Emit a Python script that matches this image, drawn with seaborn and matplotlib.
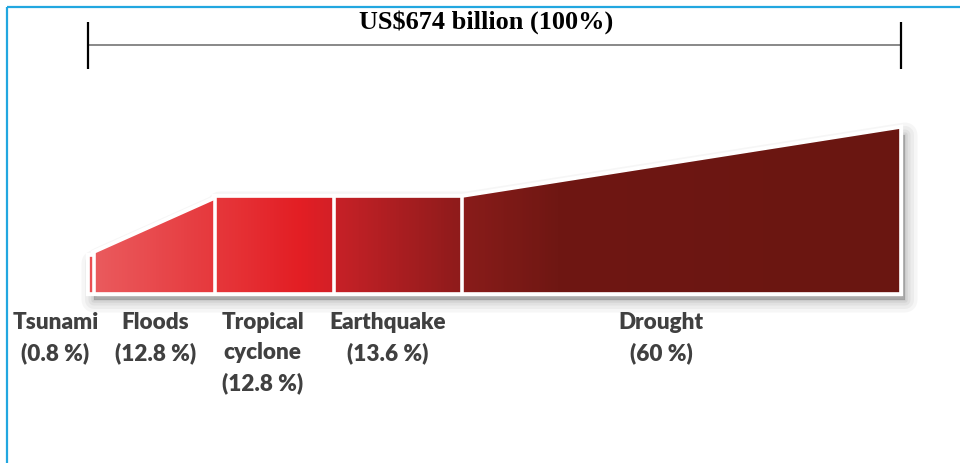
import numpy as np
import matplotlib
matplotlib.use("Agg")
import matplotlib.pyplot as plt
import seaborn as sns
import pandas as pd
from matplotlib.patches import Polygon
from matplotlib.colors import LinearSegmentedColormap

# ---- data ----
hazards = ["Tsunami", "Floods", "Tropical\ncyclone", "Earthquake", "Drought"]
shares = ["0.8 %", "12.8 %", "12.8 %", "13.6 %", "60 %"]
seg_widths = [0.6, 14.9, 14.7, 15.8, 54.0]          # band widths as drawn
height_left = [37, 40, 96, 96, 96]                  # band height at left edge
height_right = [37, 94, 96, 96, 165]                # band height at right edge
total_label = "US$674 billion (100%)"

sns.set_theme(style="white")
plt.rcParams["font.family"] = ["Lato", "DejaVu Sans"]

W, H = 960, 463
fig = plt.figure(figsize=(W / 100, H / 100), dpi=100)
ax = fig.add_axes([0, 0, 1, 1])
PX = 8.11  # px per x unit
x0 = 89
ax.set_xlim(-x0 / PX, (W - x0) / PX)
ax.set_ylim(-(H - 293), 293)
ax.axis("off")

def px2u(px):
    return (px - x0) / PX

edges = np.concatenate([[0], np.cumsum(seg_widths)])

# outline polygon of the whole band
outline = [(edges[0], 0)]
for i in range(len(seg_widths)):
    outline.append((edges[i], height_left[i]))
    outline.append((edges[i + 1], height_right[i]))
outline.append((edges[-1], 0))
outline = np.array(outline)

# shadow
sh = outline + np.array([5 / PX, -7])
for lw, a in [(18, 0.05), (13, 0.06), (8, 0.07), (4, 0.09), (1, 0.1)]:
    ax.add_patch(Polygon(sh, closed=True, facecolor=(0.35, 0.35, 0.35, a),
                         edgecolor=(0.35, 0.35, 0.35, a), lw=lw,
                         joinstyle="round", zorder=1))

# white halo
ax.add_patch(Polygon(outline, closed=True, facecolor="white", edgecolor="white",
                     lw=4.5, joinstyle="miter", zorder=2))

# gradient fill
stops = [(0.0, "#e94f53"), (0.8, "#ea5a5d"), (15.0, "#e6393d"), (16.0, "#e6363a"),
         (26.0, "#e31e24"), (30.0, "#d32027"), (30.6, "#c62127"), (45.8, "#8e1b1b"),
         (46.4, "#891c1a"), (58.0, "#6f1713"), (100.0, "#6a1611")]
cmap = LinearSegmentedColormap.from_list("band", [(p / 100, c) for p, c in stops])
grad = np.linspace(0, 1, 800)[None, :]
clip = Polygon(outline, closed=True, facecolor="none", edgecolor="none", zorder=3)
ax.add_patch(clip)
im = ax.imshow(grad, extent=(0, 100, 0, 170), cmap=cmap, aspect="auto",
               origin="lower", zorder=3, interpolation="bilinear")
im.set_clip_path(clip)

# white separators and white rim
for i in range(1, len(seg_widths)):
    top = max(height_right[i - 1], height_left[i]) + 2
    ax.plot([edges[i], edges[i]], [-1, top], color="white", lw=2.6, zorder=4,
            solid_capstyle="butt")
ax.add_patch(Polygon(outline, closed=True, facecolor="none", edgecolor="white",
                     lw=1.2, joinstyle="miter", zorder=4))

# bracket
bx = [px2u(88), px2u(901)]
sns.lineplot(x=bx, y=[293 - 45, 293 - 45], ax=ax, color="#7f7f7f", lw=1.3, zorder=5)
for xb in bx:
    ax.plot([xb, xb], [293 - 22, 293 - 69], color="black", lw=1.6, zorder=6,
            solid_capstyle="butt")
ax.text(px2u(486), 293 - 28.5, total_label, ha="center", va="baseline",
        fontsize=18.9, fontweight="bold", family="Liberation Serif", color="black",
        zorder=7)

# labels
label_px = [55.5, 155.5, 262.5, 387.5, 661]
for name, share, lx in zip(hazards, shares, label_px):
    ax.text(px2u(lx), 293 - 312, f"{name}\n({share})", ha="center", va="top",
            fontsize=16.2, fontweight="heavy", color="#404040", linespacing=1.53,
            zorder=7)

# blue frame
bl = px2u(7)
ax.plot([bl, bl], [-(H - 293) - 5, 293 - 7], color="#22a7e0", lw=1.6, zorder=8,
        solid_capstyle="butt")
ax.plot([bl, px2u(W + 5)], [293 - 7, 293 - 7], color="#22a7e0", lw=1.6, zorder=8,
        solid_capstyle="butt")

fig.savefig("out.png", dpi=100)
